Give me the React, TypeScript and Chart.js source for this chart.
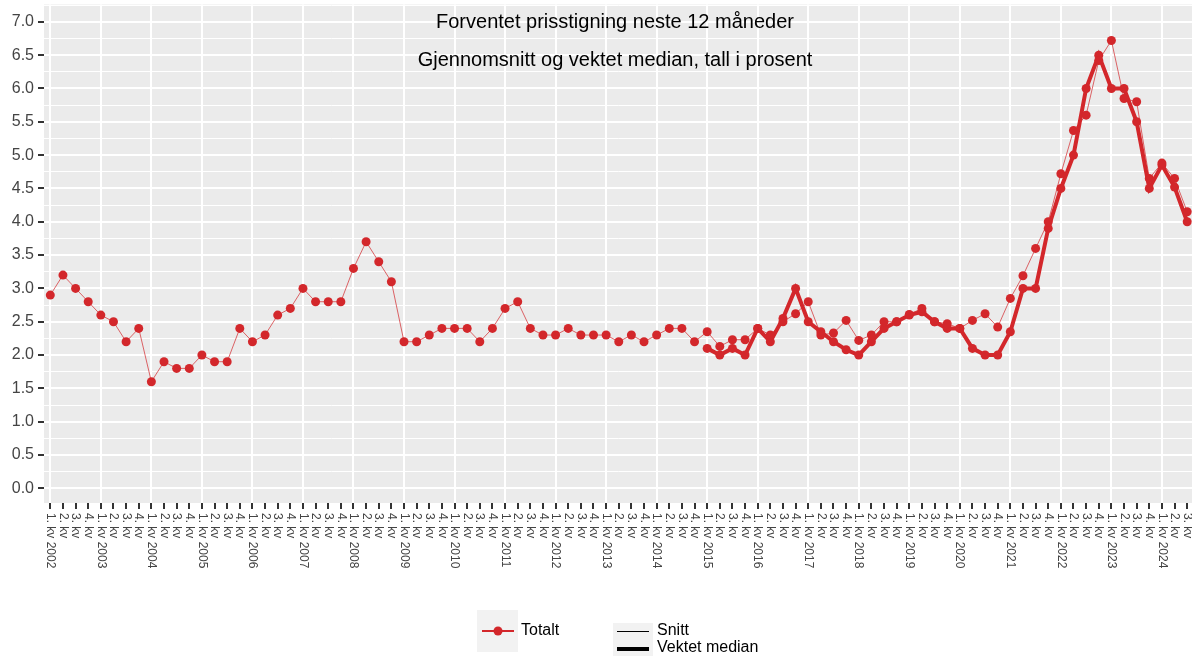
import React, { useEffect, useRef } from "react";
import { Chart, registerables } from "chart.js";

Chart.register(...registerables);

const YEARS = [2002, 2003, 2004, 2005, 2006, 2007, 2008, 2009, 2010, 2011, 2012, 2013, 2014, 2015, 2016, 2017, 2018, 2019, 2020, 2021, 2022, 2023, 2024];
const QUARTER_NAMES = ["1. kv", "2. kv", "3. kv", "4. kv"];
const N_POINTS = 91;

const LABELS: string[] = [];
for (const y of YEARS) {
  for (let q = 0; q < 4; q++) {
    if (LABELS.length < N_POINTS) LABELS.push(q === 0 ? `${QUARTER_NAMES[q]} ${y}` : QUARTER_NAMES[q]);
  }
}

const SNITT = [
  2.9, 3.2, 3.0, 2.8,
  2.6, 2.5, 2.2, 2.4,
  1.6, 1.9, 1.8, 1.8,
  2.0, 1.9, 1.9, 2.4,
  2.2, 2.3, 2.6, 2.7,
  3.0, 2.8, 2.8, 2.8,
  3.3, 3.7, 3.4, 3.1,
  2.2, 2.2, 2.3, 2.4,
  2.4, 2.4, 2.2, 2.4,
  2.7, 2.8, 2.4, 2.3,
  2.3, 2.4, 2.3, 2.3,
  2.3, 2.2, 2.3, 2.2,
  2.3, 2.4, 2.4, 2.2,
  2.35, 2.13, 2.23, 2.23,
  2.4, 2.3, 2.5, 2.62,
  2.8, 2.3, 2.33, 2.52,
  2.22, 2.3, 2.5, 2.5,
  2.61, 2.7, 2.5, 2.47,
  2.4, 2.52, 2.62, 2.42,
  2.85, 3.19, 3.6, 4.0,
  4.72, 5.37, 5.6, 6.42,
  6.72, 5.85, 5.8, 4.65,
  4.88, 4.65, 4.15,
];

const MEDIAN_FROM_2015 = [
  2.1, 2.0, 2.1, 2.0,
  2.4, 2.2, 2.55, 3.0,
  2.5, 2.35, 2.2, 2.08,
  2.0, 2.2, 2.4, 2.5,
  2.6, 2.65, 2.5, 2.4,
  2.4, 2.1, 2.0, 2.0,
  2.35, 3.0, 3.0, 3.9,
  4.5, 5.0, 6.0, 6.5,
  6.0, 6.0, 5.5, 4.5,
  4.85, 4.52, 4.0,
];

const MEDIAN: (number | null)[] = [
  ...new Array(N_POINTS - MEDIAN_FROM_2015.length).fill(null),
  ...MEDIAN_FROM_2015,
];

const TITLE_1 = "Forventet prisstigning neste 12 måneder";
const TITLE_2 = "Gjennomsnitt og vektet median, tall i prosent";
const LEGEND_COLOUR_LABEL = "Totalt";
const LEGEND_SNITT = "Snitt";
const LEGEND_MEDIAN = "Vektet median";

const RED = "#D3272B";
const FONT = "'Liberation Sans', Arial, Helvetica, sans-serif";

const isMajor = (v: number) => Math.abs(v * 2 - Math.round(v * 2)) < 1e-6;

export default function App() {
  const canvasRef = useRef<HTMLCanvasElement | null>(null);

  useEffect(() => {
    const canvas = canvasRef.current;
    if (!canvas) return;

    const decor = {
      id: "decor",
      beforeDraw(chart: any) {
        const { ctx, chartArea } = chart;
        ctx.save();
        ctx.fillStyle = "#EBEBEB";
        ctx.fillRect(chartArea.left, chartArea.top, chartArea.right - chartArea.left, chartArea.bottom - chartArea.top);
        ctx.restore();
      },
      afterDraw(chart: any) {
        const { ctx } = chart;
        const xs = chart.scales.x;
        ctx.save();
        // titles
        ctx.fillStyle = "#000";
        ctx.font = `20px ${FONT}`;
        ctx.textAlign = "center";
        ctx.textBaseline = "alphabetic";
        ctx.fillText(TITLE_1, 615, 28);
        ctx.fillText(TITLE_2, 615, 66);

        // rotated x labels
        ctx.fillStyle = "#444";
        ctx.font = `12px ${FONT}`;
        ctx.textAlign = "left";
        ctx.textBaseline = "middle";
        for (let i = 0; i < LABELS.length; i++) {
          const x = xs.getPixelForValue(i);
          ctx.save();
          ctx.translate(x, 513);
          ctx.rotate(Math.PI / 2);
          ctx.fillText(LABELS[i], 0, 0);
          ctx.restore();
        }

        // legend 1
        ctx.fillStyle = "#F2F2F2";
        ctx.fillRect(477, 610, 41, 42);
        ctx.strokeStyle = RED;
        ctx.lineWidth = 2;
        ctx.beginPath();
        ctx.moveTo(482, 631);
        ctx.lineTo(514, 631);
        ctx.stroke();
        ctx.fillStyle = RED;
        ctx.beginPath();
        ctx.arc(498, 631, 4.5, 0, Math.PI * 2);
        ctx.fill();
        ctx.fillStyle = "#000";
        ctx.font = `16px ${FONT}`;
        ctx.textBaseline = "middle";
        ctx.fillText(LEGEND_COLOUR_LABEL, 521, 631);

        // legend 2
        ctx.fillStyle = "#F2F2F2";
        ctx.fillRect(613, 623, 40, 33);
        ctx.strokeStyle = "#000";
        ctx.lineWidth = 1;
        ctx.beginPath();
        ctx.moveTo(617, 631.5);
        ctx.lineTo(649, 631.5);
        ctx.stroke();
        ctx.lineWidth = 4;
        ctx.beginPath();
        ctx.moveTo(617, 649);
        ctx.lineTo(649, 649);
        ctx.stroke();
        ctx.fillStyle = "#000";
        ctx.fillText(LEGEND_SNITT, 657, 631);
        ctx.fillText(LEGEND_MEDIAN, 657, 648);
        ctx.restore();
      },
    };

    const chart = new Chart(canvas, {
      type: "line",
      data: {
        labels: LABELS,
        datasets: [
          {
            label: LEGEND_SNITT,
            data: SNITT,
            borderColor: "rgba(211,39,43,0.7)",
            backgroundColor: RED,
            borderWidth: 1,
            pointRadius: 4.5,
            pointBorderWidth: 0,
            pointBackgroundColor: RED,
            tension: 0,
          },
          {
            label: LEGEND_MEDIAN,
            data: MEDIAN,
            borderColor: RED,
            backgroundColor: RED,
            borderWidth: 4,
            pointRadius: 4.5,
            pointBorderWidth: 0,
            pointBackgroundColor: RED,
            tension: 0,
          },
        ],
      },
      options: {
        animation: false,
        responsive: false,
        devicePixelRatio: 1,
        layout: { padding: { top: 4, right: 0, left: 0, bottom: 0 } },
        plugins: {
          legend: { display: false },
          tooltip: { enabled: false },
          title: { display: false },
        },
        scales: {
          x: {
            type: "category",
            offset: true,
            afterFit: (scale: any) => {
              scale.height = 155;
              scale.paddingLeft = 0;
              scale.paddingRight = 0;
            },
            border: { display: false },
            grid: {
              offset: false,
              drawTicks: true,
              tickLength: 6,
              tickWidth: 2,
              tickColor: "#333",
              lineWidth: 2,
              color: (c: any) => (c.index % 4 === 0 ? "#FFFFFF" : "rgba(0,0,0,0)"),
            },
            ticks: { display: false, autoSkip: false, maxRotation: 0 },
          },
          y: {
            type: "linear",
            min: -0.22,
            max: 7.26,
            afterFit: (scale: any) => {
              scale.width = 44;
              scale.paddingTop = 0;
              scale.paddingBottom = 0;
            },
            border: { display: false },
            grid: {
              drawTicks: true,
              tickLength: 6,
              tickWidth: 2,
              tickColor: (c: any) => (c.tick && isMajor(c.tick.value) ? "#333" : "rgba(0,0,0,0)"),
              lineWidth: (c: any) => (c.tick && isMajor(c.tick.value) ? 2 : 1),
              color: "#FFFFFF",
            },
            ticks: {
              stepSize: 0.25,
              includeBounds: false,
              autoSkip: false,
              padding: 4,
              color: "#444",
              font: { size: 16, family: FONT },
              callback: (v: any) => (isMajor(Number(v)) ? Number(v).toFixed(1) : ""),
            },
          },
        },
      },
      plugins: [decor],
    } as any);

    return () => chart.destroy();
  }, []);

  return (
    <div style={{ position: "absolute", left: 0, top: 0, width: 1192, height: 658, overflow: "hidden", background: "#fff" }}>
      <canvas ref={canvasRef} width={1198} height={658} style={{ display: "block", width: 1198, height: 658 }} />
    </div>
  );
}
